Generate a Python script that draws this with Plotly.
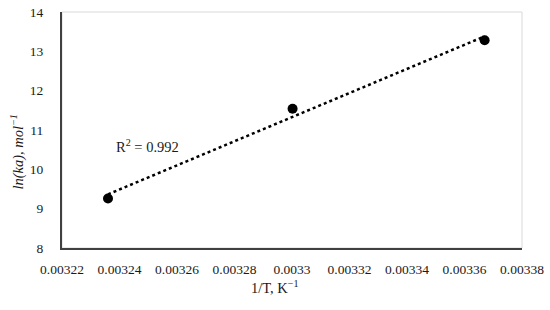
import numpy as np
import plotly.graph_objects as go

# data
inv_T = [0.003236, 0.0033002, 0.003367]
ln_ka = [9.26, 11.54, 13.28]
x_ticks = [0.00322, 0.00324, 0.00326, 0.00328, 0.0033, 0.00332, 0.00334, 0.00336, 0.00338]
x_tick_text = ["0.00322", "0.00324", "0.00326", "0.00328", "0.0033",
               "0.00332", "0.00334", "0.00336", "0.00338"]
y_ticks = [8, 9, 10, 11, 12, 13, 14]

# linear trendline, same as excel
slope, icept = np.polyfit(inv_T, ln_ka, 1)
fit_x = [min(inv_T), max(inv_T)]
fit_y = [slope * v + icept for v in fit_x]

font = "Liberation Serif, Times New Roman, serif"

fig = go.Figure()

fig.add_trace(go.Scatter(x=fit_x, y=fit_y, mode="lines",
                         line=dict(color="black", width=2.5, dash="dot"),
                         hoverinfo="skip"))
fig.add_trace(go.Scatter(x=inv_T, y=ln_ka, mode="markers",
                         marker=dict(color="black", size=10)))

fig.update_layout(
    width=550, height=310,
    margin=dict(l=62, r=28, t=12, b=62),
    plot_bgcolor="white", paper_bgcolor="white",
    showlegend=False,
    font=dict(family=font, size=13.5, color="#1a1a1a"),
    xaxis=dict(range=[0.00322, 0.00338], tickvals=x_ticks, ticktext=x_tick_text,
               showgrid=False, zeroline=False, showline=True, automargin=False,
               linecolor="#404040", linewidth=2, ticks="", ticklabelstandoff=8),
    yaxis=dict(range=[8, 14], tickvals=y_ticks,
               showgrid=False, zeroline=False, showline=True, automargin=False,
               linecolor="#404040", linewidth=2, ticks="", ticklabelstandoff=14),
)

# light frame on top/right
fig.add_shape(type="rect", xref="paper", yref="paper", x0=0, y0=0, x1=1, y1=1,
              line=dict(color="#d9d9d9", width=1), layer="below")

fig.add_annotation(text="R<sup>2</sup> = 0.992", xref="x", yref="y",
                   x=0.0032498, y=10.6, showarrow=False, font=dict(size=14.5, color="#1a1a1a"))
fig.add_annotation(text="1/T, K<sup>−1</sup>", xref="paper", yref="paper",
                   x=0.463, y=-0.165, xanchor="center", yanchor="middle", showarrow=False,
                   font=dict(size=14.5, color="#1a1a1a"))
fig.add_annotation(text="<i>ln(ka), mol<sup>−1</sup></i>", xref="paper", yref="paper",
                   x=-0.097, y=0.41, xanchor="center", yanchor="middle",
                   textangle=-90, showarrow=False,
                   font=dict(size=14.5, color="#1a1a1a"))

# page has 8px body margin by default, drop it so the figure sits at 0,0
fig.write_html("out.html", config={"displayModeBar": False},
               post_script="document.body.style.margin='0';")
